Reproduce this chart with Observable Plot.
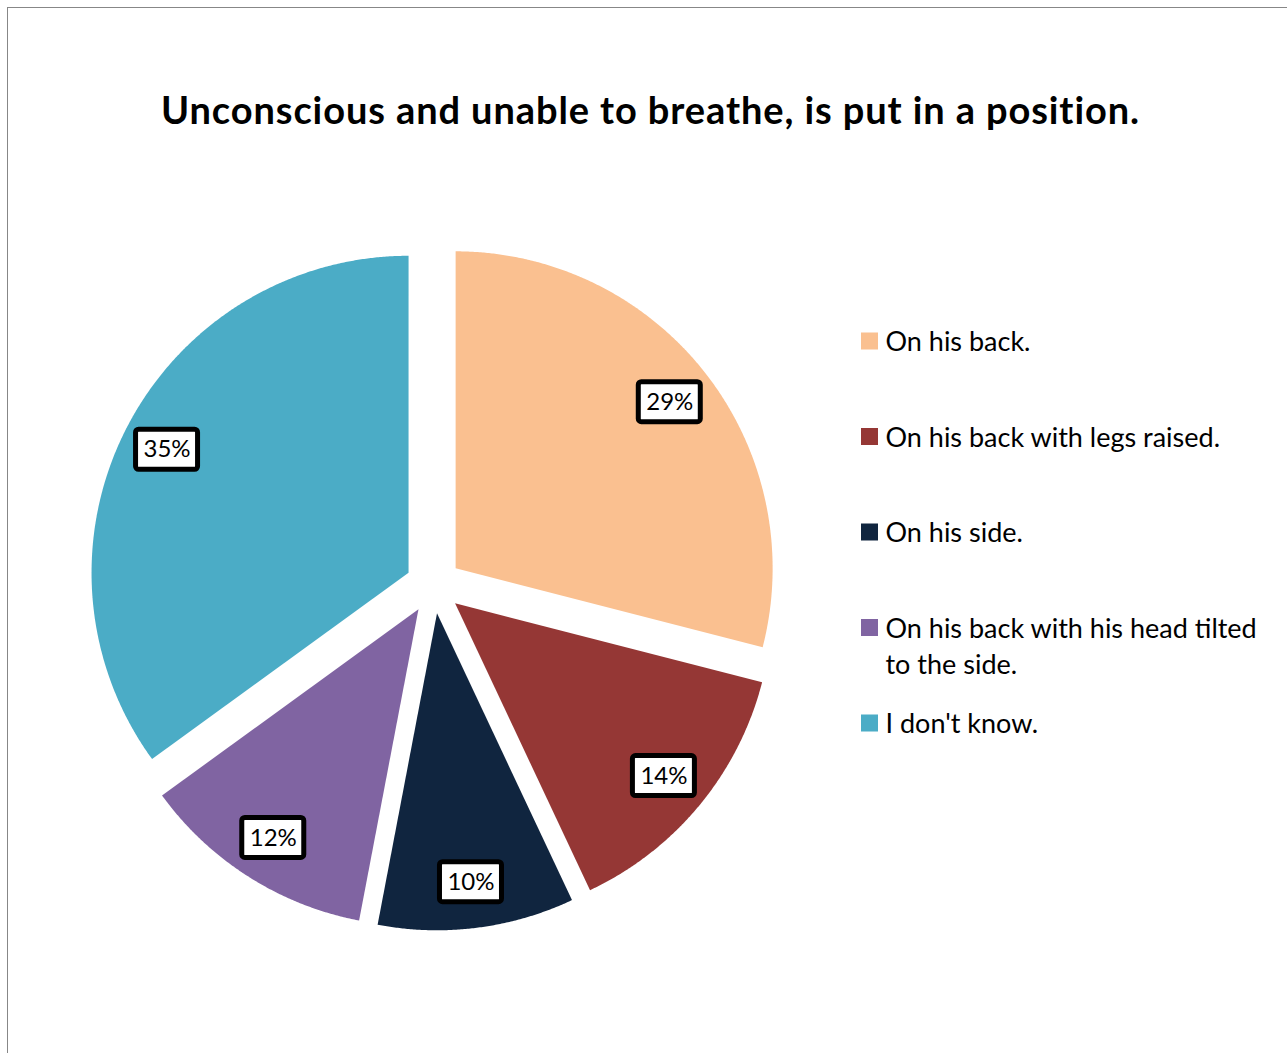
<!DOCTYPE html>
<html><head><meta charset="utf-8">
<script src="https://cdn.jsdelivr.net/npm/d3@7"></script>
<script src="https://cdn.jsdelivr.net/npm/@observablehq/plot@0.6"></script>
<style>
html,body{margin:0;padding:0;background:#fff;overflow:hidden;width:1287px;height:1053px}
#frame{position:absolute;left:7px;top:7px;width:1400px;height:1200px;border-left:1px solid #878787;border-top:1px solid #878787;pointer-events:none;z-index:2}
#title{position:absolute;left:0;top:87px;width:1301px;text-align:center;font-family:Lato,sans-serif;font-weight:700;font-size:38px;letter-spacing:0.9px;line-height:1.2;color:#000;white-space:nowrap}
#chart{position:absolute;left:0;top:160px}
</style></head><body>
<div id="frame"></div>
<div id="title">Unconscious and unable to breathe, is put in a position.</div>
<div id="chart"></div>
<script>
const categories = [
  "On his back.",
  "On his back with legs raised.",
  "On his side.",
  "On his back with his head tilted to the side.",
  "I don't know."
];
const values = [29, 14, 10, 12, 35];
const colors = ["#FAC090", "#953735", "#10253F", "#8064A2", "#4BACC6"];

// layout
const W = 1287, TOP = 160, H = 1053 - TOP;
const cx = 433, cy = 585, R = 317, explode = 28, labelFrac = 0.855;
const legendX = 885, legendY0 = 341, legendStep = 95.5, legendFont = 27, legendMaxW = 392;

const arcs = d3.pie().sort(null).value(d => d)(values);
const slices = [], labelPts = [];
arcs.forEach((a, i) => {
  const cat = categories[i];
  const mid = (a.startAngle + a.endAngle) / 2;
  const ox = cx + explode * Math.sin(mid), oy = cy - explode * Math.cos(mid);
  slices.push({cat, x: ox, y: oy});
  const n = Math.max(2, Math.ceil((a.endAngle - a.startAngle) / 0.005));
  for (let k = 0; k <= n; k++) {
    const t = a.startAngle + (a.endAngle - a.startAngle) * k / n;
    slices.push({cat, x: ox + R * Math.sin(t), y: oy - R * Math.cos(t)});
  }
  labelPts.push({cat, label: values[i] + "%", x: ox + labelFrac * R * Math.sin(mid), y: oy - labelFrac * R * Math.cos(mid)});
});

// wrap legend text by measured width
const ctx = document.createElement("canvas").getContext("2d");
ctx.font = `${legendFont}px Lato`;
function wrap(s) {
  const words = s.split(" "); const lines = []; let cur = "";
  for (const w of words) {
    const t = cur ? cur + " " + w : w;
    if (cur && ctx.measureText(t).width > legendMaxW) { lines.push(cur); cur = w; } else cur = t;
  }
  lines.push(cur); return lines.join("\n");
}
const legendRows = categories.map((c, i) => ({cat: c, y: legendY0 + i * legendStep, text: wrap(c)}));

const plot = Plot.plot({
  width: W, height: H, margin: 0,
  style: {background: "transparent", overflow: "visible"},
  x: {domain: [0, W], range: [0, W], axis: null},
  y: {domain: [TOP, TOP + H], range: [0, H], axis: null},
  color: {domain: categories, range: colors},
  marks: [
    Plot.line(slices, {x: "x", y: "y", z: "cat", fill: "cat", stroke: "none", curve: "linear-closed"}),
    Plot.rect(labelPts, {x1: d => d.x - 31, x2: d => d.x + 31, y1: d => d.y - 20, y2: d => d.y + 20, fill: "white", stroke: "black", strokeWidth: 5, rx: 3}),
    Plot.text(labelPts, {x: "x", y: "y", text: "label", fontSize: 24, fontFamily: "Lato", fill: "black"}),
    Plot.rect(legendRows, {x1: legendX - 24, x2: legendX - 7, y1: d => d.y - 8.5, y2: d => d.y + 8.5, fill: "cat"}),
    Plot.text(legendRows, {x: legendX, y: "y", text: "text", textAnchor: "start", lineAnchor: "top", dy: -16, fontSize: legendFont, fontFamily: "Lato", lineHeight: 36 / legendFont, fill: "black"})
  ]
});
document.getElementById("chart").append(plot);
</script>
</body></html>
